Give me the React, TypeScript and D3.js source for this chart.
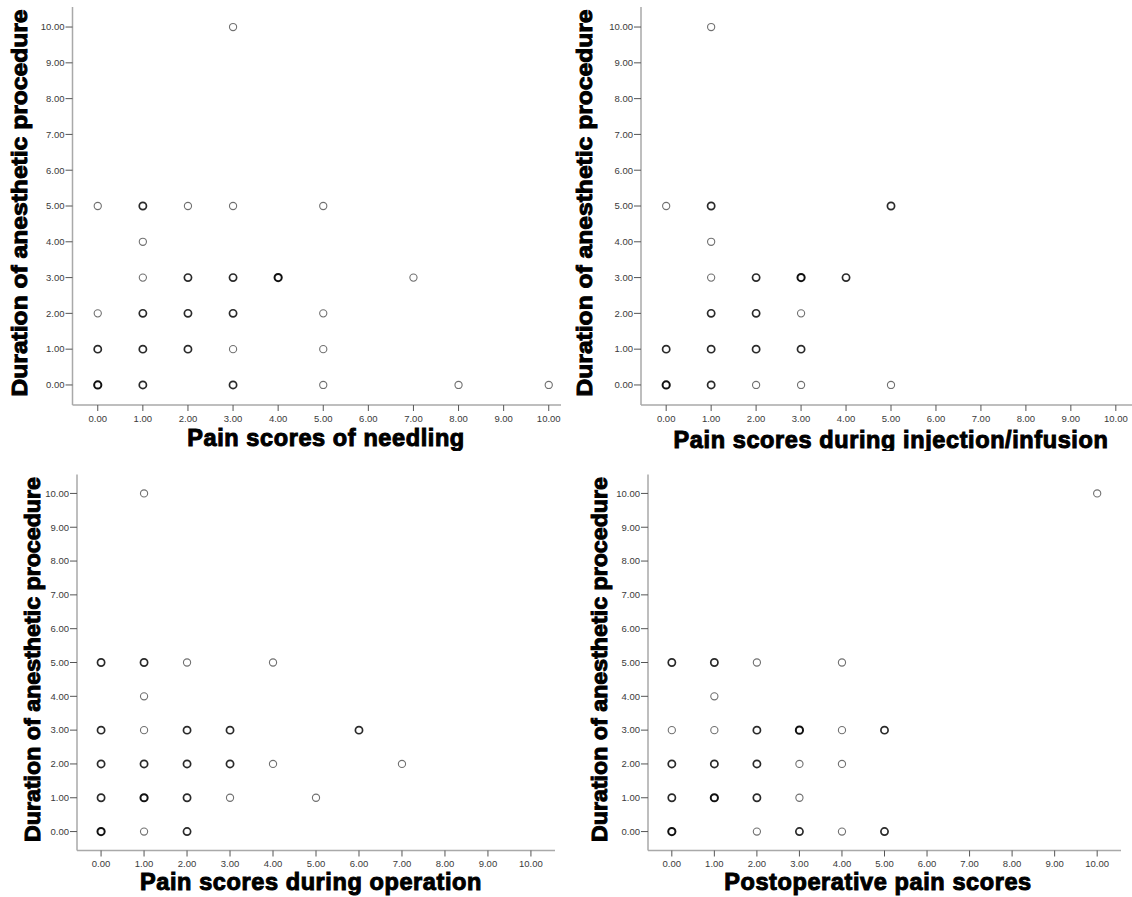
import React from "react";
import * as d3 from "d3";

// ---------- DATA ----------
const yTitle = "Duration of anesthetic procedure";
const tickValues = [0, 1, 2, 3, 4, 5, 6, 7, 8, 9, 10];

// Panel 1: Pain scores of needling
const needlingTitle = "Pain scores of needling";
const needlingX = [3, 0, 1, 2, 3, 5, 1, 1, 2, 3, 4, 7, 0, 1, 2, 3, 5, 0, 1, 2, 3, 5, 0, 1, 3, 5, 8, 10];
const needlingY = [10, 5, 5, 5, 5, 5, 4, 3, 3, 3, 3, 3, 2, 2, 2, 2, 2, 1, 1, 1, 1, 1, 0, 0, 0, 0, 0, 0];
const needlingN = [1, 1, 2, 1, 1, 1, 1, 1, 2, 2, 3, 1, 1, 2, 2, 2, 1, 2, 2, 2, 1, 1, 3, 2, 2, 1, 1, 1];

// Panel 2: Pain scores during injection/infusion
const injectionTitle = "Pain scores during injection/infusion";
const injectionX = [1, 0, 1, 5, 1, 1, 2, 3, 4, 1, 2, 3, 0, 1, 2, 3, 0, 1, 2, 3, 5];
const injectionY = [10, 5, 5, 5, 4, 3, 3, 3, 3, 2, 2, 2, 1, 1, 1, 1, 0, 0, 0, 0, 0];
const injectionN = [1, 1, 2, 2, 1, 1, 2, 3, 2, 2, 2, 1, 2, 2, 2, 2, 3, 2, 1, 1, 1];

// Panel 3: Pain scores during operation
const operationTitle = "Pain scores during operation";
const operationX = [1, 0, 1, 2, 4, 1, 0, 1, 2, 3, 6, 0, 1, 2, 3, 4, 7, 0, 1, 2, 3, 5, 0, 1, 2];
const operationY = [10, 5, 5, 5, 5, 4, 3, 3, 3, 3, 3, 2, 2, 2, 2, 2, 2, 1, 1, 1, 1, 1, 0, 0, 0];
const operationN = [1, 2, 2, 1, 1, 1, 2, 1, 2, 2, 2, 2, 2, 2, 2, 1, 1, 2, 3, 2, 1, 1, 3, 1, 2];

// Panel 4: Postoperative pain scores
const postopTitle = "Postoperative pain scores";
const postopX = [10, 0, 1, 2, 4, 1, 0, 1, 2, 3, 4, 5, 0, 1, 2, 3, 4, 0, 1, 2, 3, 0, 2, 3, 4, 5];
const postopY = [10, 5, 5, 5, 5, 4, 3, 3, 3, 3, 3, 3, 2, 2, 2, 2, 2, 1, 1, 1, 1, 0, 0, 0, 0, 0];
const postopN = [1, 2, 2, 1, 1, 1, 1, 1, 2, 3, 1, 2, 2, 2, 2, 1, 1, 2, 3, 2, 1, 3, 1, 2, 1, 2];

// ---------- LAYOUT ----------
const W = 1132;
const H = 897;
const DOMAIN: [number, number] = [-0.56, 10.56];
const FONT = "'Liberation Sans', Arial, Helvetica, sans-serif";

type PanelCfg = {
  key: string;
  title: string;
  xs: number[];
  ys: number[];
  ns: number[];
  xr: [number, number];
  yr: [number, number];
  clip: { x: number; y: number; w: number; h: number };
  yTitleX: number;
  yTitleLen: number;
  xTitleX: number;
  xTitleY: number;
};

const panels: PanelCfg[] = [
  {
    key: "p1", title: needlingTitle, xs: needlingX, ys: needlingY, ns: needlingN,
    xr: [72.5, 574], yr: [405, 7], clip: { x: 0, y: 0, w: 561, h: 451 },
    yTitleX: 27, yTitleLen: 387, xTitleX: 326, xTitleY: 446,
  },
  {
    key: "p2", title: injectionTitle, xs: injectionX, ys: injectionY, ns: injectionN,
    xr: [641, 1141], yr: [405, 7], clip: { x: 563, y: 0, w: 569, h: 451 },
    yTitleX: 592, yTitleLen: 387, xTitleX: 891, xTitleY: 448,
  },
  {
    key: "p3", title: operationTitle, xs: operationX, ys: operationY, ns: operationN,
    xr: [77, 555], yr: [850.5, 474.5], clip: { x: 0, y: 455, w: 561, h: 442 },
    yTitleX: 40, yTitleLen: 365, xTitleX: 311, xTitleY: 890,
  },
  {
    key: "p4", title: postopTitle, xs: postopX, ys: postopY, ns: postopN,
    xr: [648, 1121], yr: [850.5, 474.5], clip: { x: 563, y: 455, w: 569, h: 442 },
    yTitleX: 607, yTitleLen: 365, xTitleX: 878, xTitleY: 890,
  },
];

const fmt = d3.format(".2f");

function Panel({ cfg }: { cfg: PanelCfg }) {
  const x = d3.scaleLinear().domain(DOMAIN).range(cfg.xr);
  const y = d3.scaleLinear().domain(DOMAIN).range(cfg.yr);
  const left = cfg.xr[0];
  const bottom = cfg.yr[0];
  const top = cfg.yr[1];
  const right = cfg.xr[1];
  const yMid = (top + bottom) / 2 - 3;
  const pts = cfg.xs.map((v, i) => ({ x: v, y: cfg.ys[i], n: cfg.ns[i] }));
  return (
    <g clipPath={`url(#clip-${cfg.key})`}>
      {/* axes lines */}
      <line x1={left} x2={left} y1={top} y2={bottom} stroke="#a9a9a9" strokeWidth={1.5} />
      <line x1={left} x2={right} y1={bottom} y2={bottom} stroke="#a9a9a9" strokeWidth={1.5} />
      {/* y ticks */}
      {tickValues.map((t) => (
        <g key={`y${t}`}>
          <line x1={left - 7} x2={left} y1={y(t)} y2={y(t)} stroke="#555" strokeWidth={1} />
          <text x={left - 8} y={y(t)} dy="0.35em" textAnchor="end" fontSize={9.5}
            fontFamily={FONT} fill="#3a3a3a">{fmt(t)}</text>
        </g>
      ))}
      {/* x ticks */}
      {tickValues.map((t) => (
        <g key={`x${t}`}>
          <line x1={x(t)} x2={x(t)} y1={bottom} y2={bottom + 6} stroke="#555" strokeWidth={1} />
          <text x={x(t)} y={bottom + 16.5} textAnchor="middle" fontSize={9.5}
            fontFamily={FONT} fill="#3a3a3a">{fmt(t)}</text>
        </g>
      ))}
      {/* points */}
      {pts.map((p, i) => (
        <circle key={i} cx={x(p.x)} cy={y(p.y)} r={3.6} fill="none"
          stroke={p.n >= 3 ? "#111" : p.n === 2 ? "#2a2a2a" : "#707070"}
          strokeWidth={p.n >= 3 ? 2 : p.n === 2 ? 1.7 : 1.1} />
      ))}
      {/* titles */}
      <text x={cfg.xTitleX} y={cfg.xTitleY} textAnchor="middle" fontSize={23.5}
        fontWeight="bold" fontFamily={FONT} fill="#000" stroke="#000" strokeWidth={1}
        letterSpacing={0.6}>
        {cfg.title}
      </text>
      <text transform={`translate(${cfg.yTitleX},${yMid}) rotate(-90)`} textAnchor="middle"
        fontSize={22.5} fontWeight="bold" fontFamily={FONT} fill="#000" stroke="#000" strokeWidth={1}
        textLength={cfg.yTitleLen} lengthAdjust="spacingAndGlyphs">
        {yTitle}
      </text>
    </g>
  );
}

export default function App() {
  return (
    <svg width={W} height={H} viewBox={`0 0 ${W} ${H}`}
      style={{ position: "absolute", left: 0, top: 0, background: "#fff" }}>
      <defs>
        {panels.map((p) => (
          <clipPath id={`clip-${p.key}`} key={p.key}>
            <rect x={p.clip.x} y={p.clip.y} width={p.clip.w} height={p.clip.h} />
          </clipPath>
        ))}
      </defs>
      <rect width={W} height={H} fill="#fff" />
      {panels.map((p) => (
        <Panel key={p.key} cfg={p} />
      ))}
    </svg>
  );
}
